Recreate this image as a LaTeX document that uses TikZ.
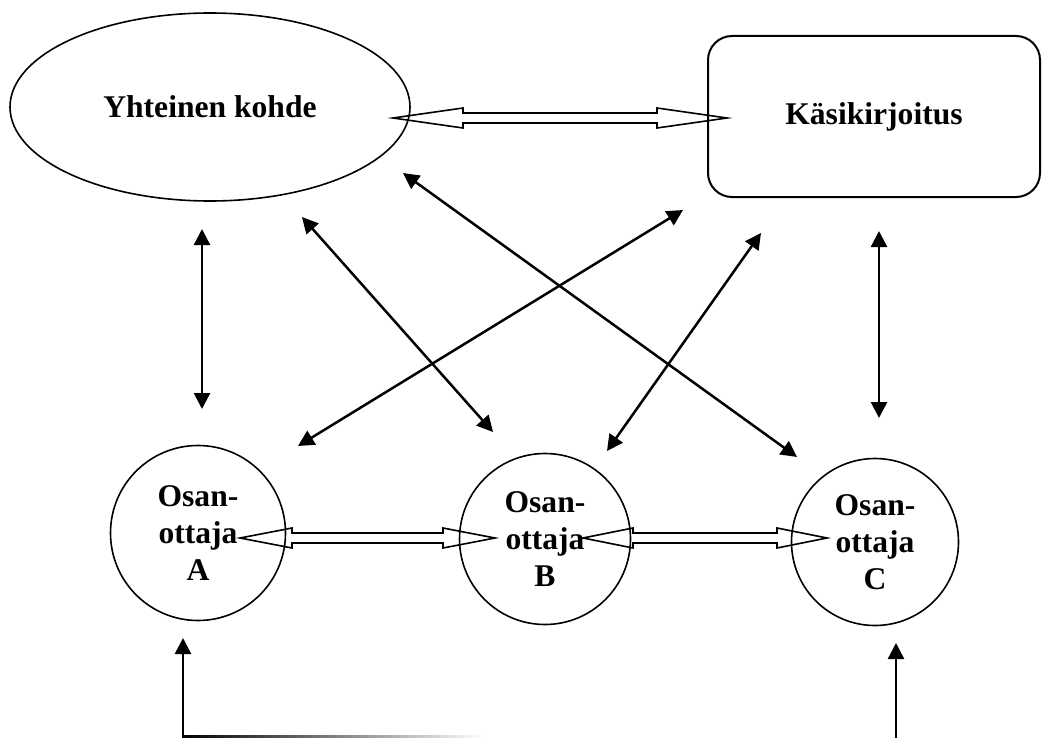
\documentclass[tikz,border=0pt]{standalone}
\usepackage{fontspec}
\setmainfont{Liberation Serif}
\usetikzlibrary{arrows.meta,shapes,calc}

\begin{document}
\begin{tikzpicture}[x=0.5pt,y=-0.5pt,
  every node/.style={font=\fontsize{15.8}{18.5}\selectfont\bfseries},
  shp/.style={draw,line width=0.8pt,inner sep=0pt},
  link/.style={line width=1.25pt,
    {Triangle[length=8pt,width=8pt]}-{Triangle[length=8pt,width=8pt]}},
  uplink/.style={line width=1.25pt,-{Triangle[length=8pt,width=8pt]}},
  hollow/.style={draw,line width=0.8pt,line join=miter}]

  \useasboundingbox (0,0) rectangle (1043,738);

  \newcommand\HeadW{5pt}
  \newcommand\ShaftW{2.5pt}
  \newcommand\dblhollow[3]{\draw[hollow] let \p1=(#1), \p2=(#2) in
    (\p1) -- (\x1+#3,\y1+\HeadW) -- (\x1+#3,\y1+\ShaftW) -- (\x2-#3,\y2+\ShaftW)
    -- (\x2-#3,\y2+\HeadW) -- (\p2) -- (\x2-#3,\y2-\HeadW) -- (\x2-#3,\y2-\ShaftW)
    -- (\x1+#3,\y1-\ShaftW) -- (\x1+#3,\y1-\HeadW) -- cycle;}

  \node[shp,ellipse,minimum width=200pt,minimum height=94pt] (kohde) at (210,107)
    {Yhteinen kohde};
  \node[shp,line width=1pt,rounded corners=12pt,minimum width=166pt,
    minimum height=80.5pt] (kasi) at (874,116.5) {Käsikirjoitus};

  \node[shp,circle,minimum size=87.5pt,align=center] (osA) at (198,533) {Osan-\\ottaja\\A};
  \node[shp,circle,minimum size=85.5pt,align=center] (osB) at (545,539) {Osan-\\ottaja\\B};
  \node[shp,circle,minimum size=83.5pt,align=center] (osC) at (875,542) {Osan-\\ottaja\\C};

  % hollow double arrows
  \coordinate (kk1) at (393,118);
  \coordinate (kk2) at (727,118);
  \coordinate (ab1) at (240,538);
  \coordinate (ab2) at (495,538);
  \coordinate (bc1) at (583,538);
  \coordinate (bc2) at (827,538);
  \dblhollow{kk1}{kk2}{35pt}
  \dblhollow{ab1}{ab2}{26pt}
  \dblhollow{bc1}{bc2}{25pt}

  % thin links
  \coordinate (kA1) at (202,229);
  \coordinate (kA2) at (202,409);
  \coordinate (kB1) at (302,217);
  \coordinate (kB2) at (493,432);
  \coordinate (kC1) at (403,173);
  \coordinate (kC2) at (797,457);
  \coordinate (sA1) at (683,210);
  \coordinate (sA2) at (298,446);
  \coordinate (sB1) at (761,233);
  \coordinate (sB2) at (607,451);
  \coordinate (sC1) at (879,231);
  \coordinate (sC2) at (879,418);

  \draw[link] (kA1) -- (kA2);
  \draw[link] (kB1) -- (kB2);
  \draw[link] (kC1) -- (kC2);
  \draw[link] (sA1) -- (sA2);
  \draw[link] (sB1) -- (sB2);
  \draw[link] (sC1) -- (sC2);

  % arrows coming from below
  \coordinate (inA) at (183,738);
  \coordinate (tipA) at (183,638);
  \coordinate (inC) at (896,738);
  \coordinate (tipC) at (896,643);
  \draw[uplink] (inA) -- (tipA);
  \draw[uplink] (inC) -- (tipC);
  \shade[left color=black,right color=white] (182,735) rectangle (485,738);

\end{tikzpicture}
\end{document}
